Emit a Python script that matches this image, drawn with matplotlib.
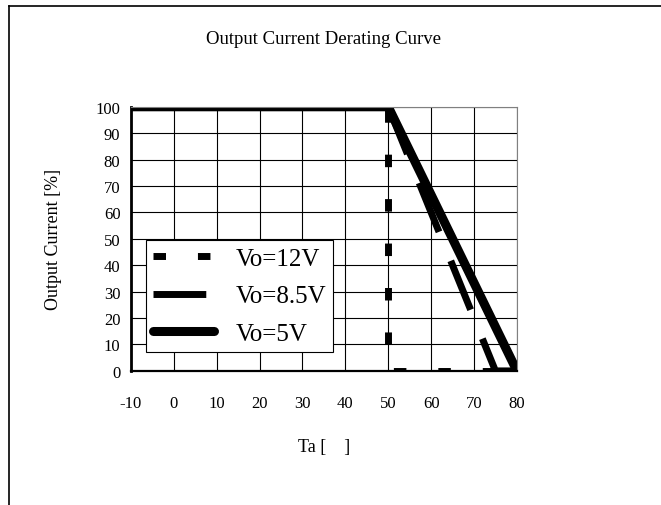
import matplotlib
matplotlib.use("Agg")
import matplotlib.pyplot as plt
from matplotlib.lines import Line2D

plt.rcParams['font.family'] = ['Liberation Serif', 'DejaVu Serif']
plt.rcParams['lines.scale_dashes'] = False
plt.rcParams['axes.unicode_minus'] = False

# derating curves: ambient temperature [C] vs output current [%]
ta_12v = [-10, 50, 50, 80]
cur_12v = [100, 100, 0, 0]
ta_85v = [-10, 50, 75, 80]
cur_85v = [100, 100, 0, 0]
ta_5v = [-10, 50, 80]
cur_5v = [100, 100, 0]
labels = ['Vo=12V', 'Vo=8.5V', 'Vo=5V']

x_ticks = list(range(-10, 81, 10))
y_ticks = list(range(0, 101, 10))

dash_12v = (9, 23)
dash_85v = (38, 22.5)

fig = plt.figure(figsize=(6.61, 5.06), dpi=100)
ax = fig.add_axes([0.198, 0.265, 0.584, 0.522])

ax.plot(ta_12v, cur_12v, color='black', lw=5, dash_capstyle='butt',
        linestyle=(5, dash_12v))
ax.plot(ta_85v, cur_85v, color='black', lw=5, dash_capstyle='butt',
        linestyle=(58, dash_85v))
ax.plot(ta_5v, cur_5v, color='black', lw=6.5, solid_capstyle='round',
        solid_joinstyle='miter')

ax.set_xlim(-10, 80)
ax.set_ylim(0, 100)
ax.set_xticks(x_ticks)
ax.set_yticks(y_ticks)
ax.grid(True, color='black', lw=0.8)
ax.set_axisbelow(True)
ax.tick_params(length=0, labelsize=12)
ax.tick_params(axis='x', pad=17)
ax.tick_params(axis='y', pad=7.5)

for side in ['top', 'right']:
    ax.spines[side].set_color('#808080')
    ax.spines[side].set_linewidth(0.8)
ax.spines['left'].set_linewidth(2)
ax.spines['bottom'].set_linewidth(1.6)

ax.set_xlabel('Ta [    ]', fontsize=13, labelpad=20)
ax.set_ylabel('Output Current [%]', fontsize=13, labelpad=24)

# legend handles start their dash pattern at zero, like the original
handles = [
    Line2D([], [], color='black', lw=5, dash_capstyle='butt', linestyle=(0, dash_12v)),
    Line2D([], [], color='black', lw=5, dash_capstyle='butt', linestyle=(0, dash_85v)),
    Line2D([], [], color='black', lw=6.5, solid_capstyle='round'),
]
leg = ax.legend(handles, labels, loc='lower left', bbox_to_anchor=(0.039, 0.072),
                borderaxespad=0, fontsize=18, handlelength=2.45,
                handletextpad=0.85, labelspacing=0.6, borderpad=0.28,
                fancybox=False, framealpha=1, edgecolor='black')
leg.get_frame().set_linewidth(0.8)

fig.text(0.49, 0.921, 'Output Current Derating Curve', ha='center',
         va='center', fontsize=13.5)

# outer chart border (top and left edges)
fig.add_artist(Line2D([9 / 661, 1], [1 - 7 / 506, 1 - 7 / 506],
                      color='black', lw=1.2, transform=fig.transFigure))
fig.add_artist(Line2D([9 / 661, 9 / 661], [0, 1 - 7 / 506],
                      color='black', lw=1.2, transform=fig.transFigure))

fig.savefig('out.png', dpi=100, facecolor='white')
